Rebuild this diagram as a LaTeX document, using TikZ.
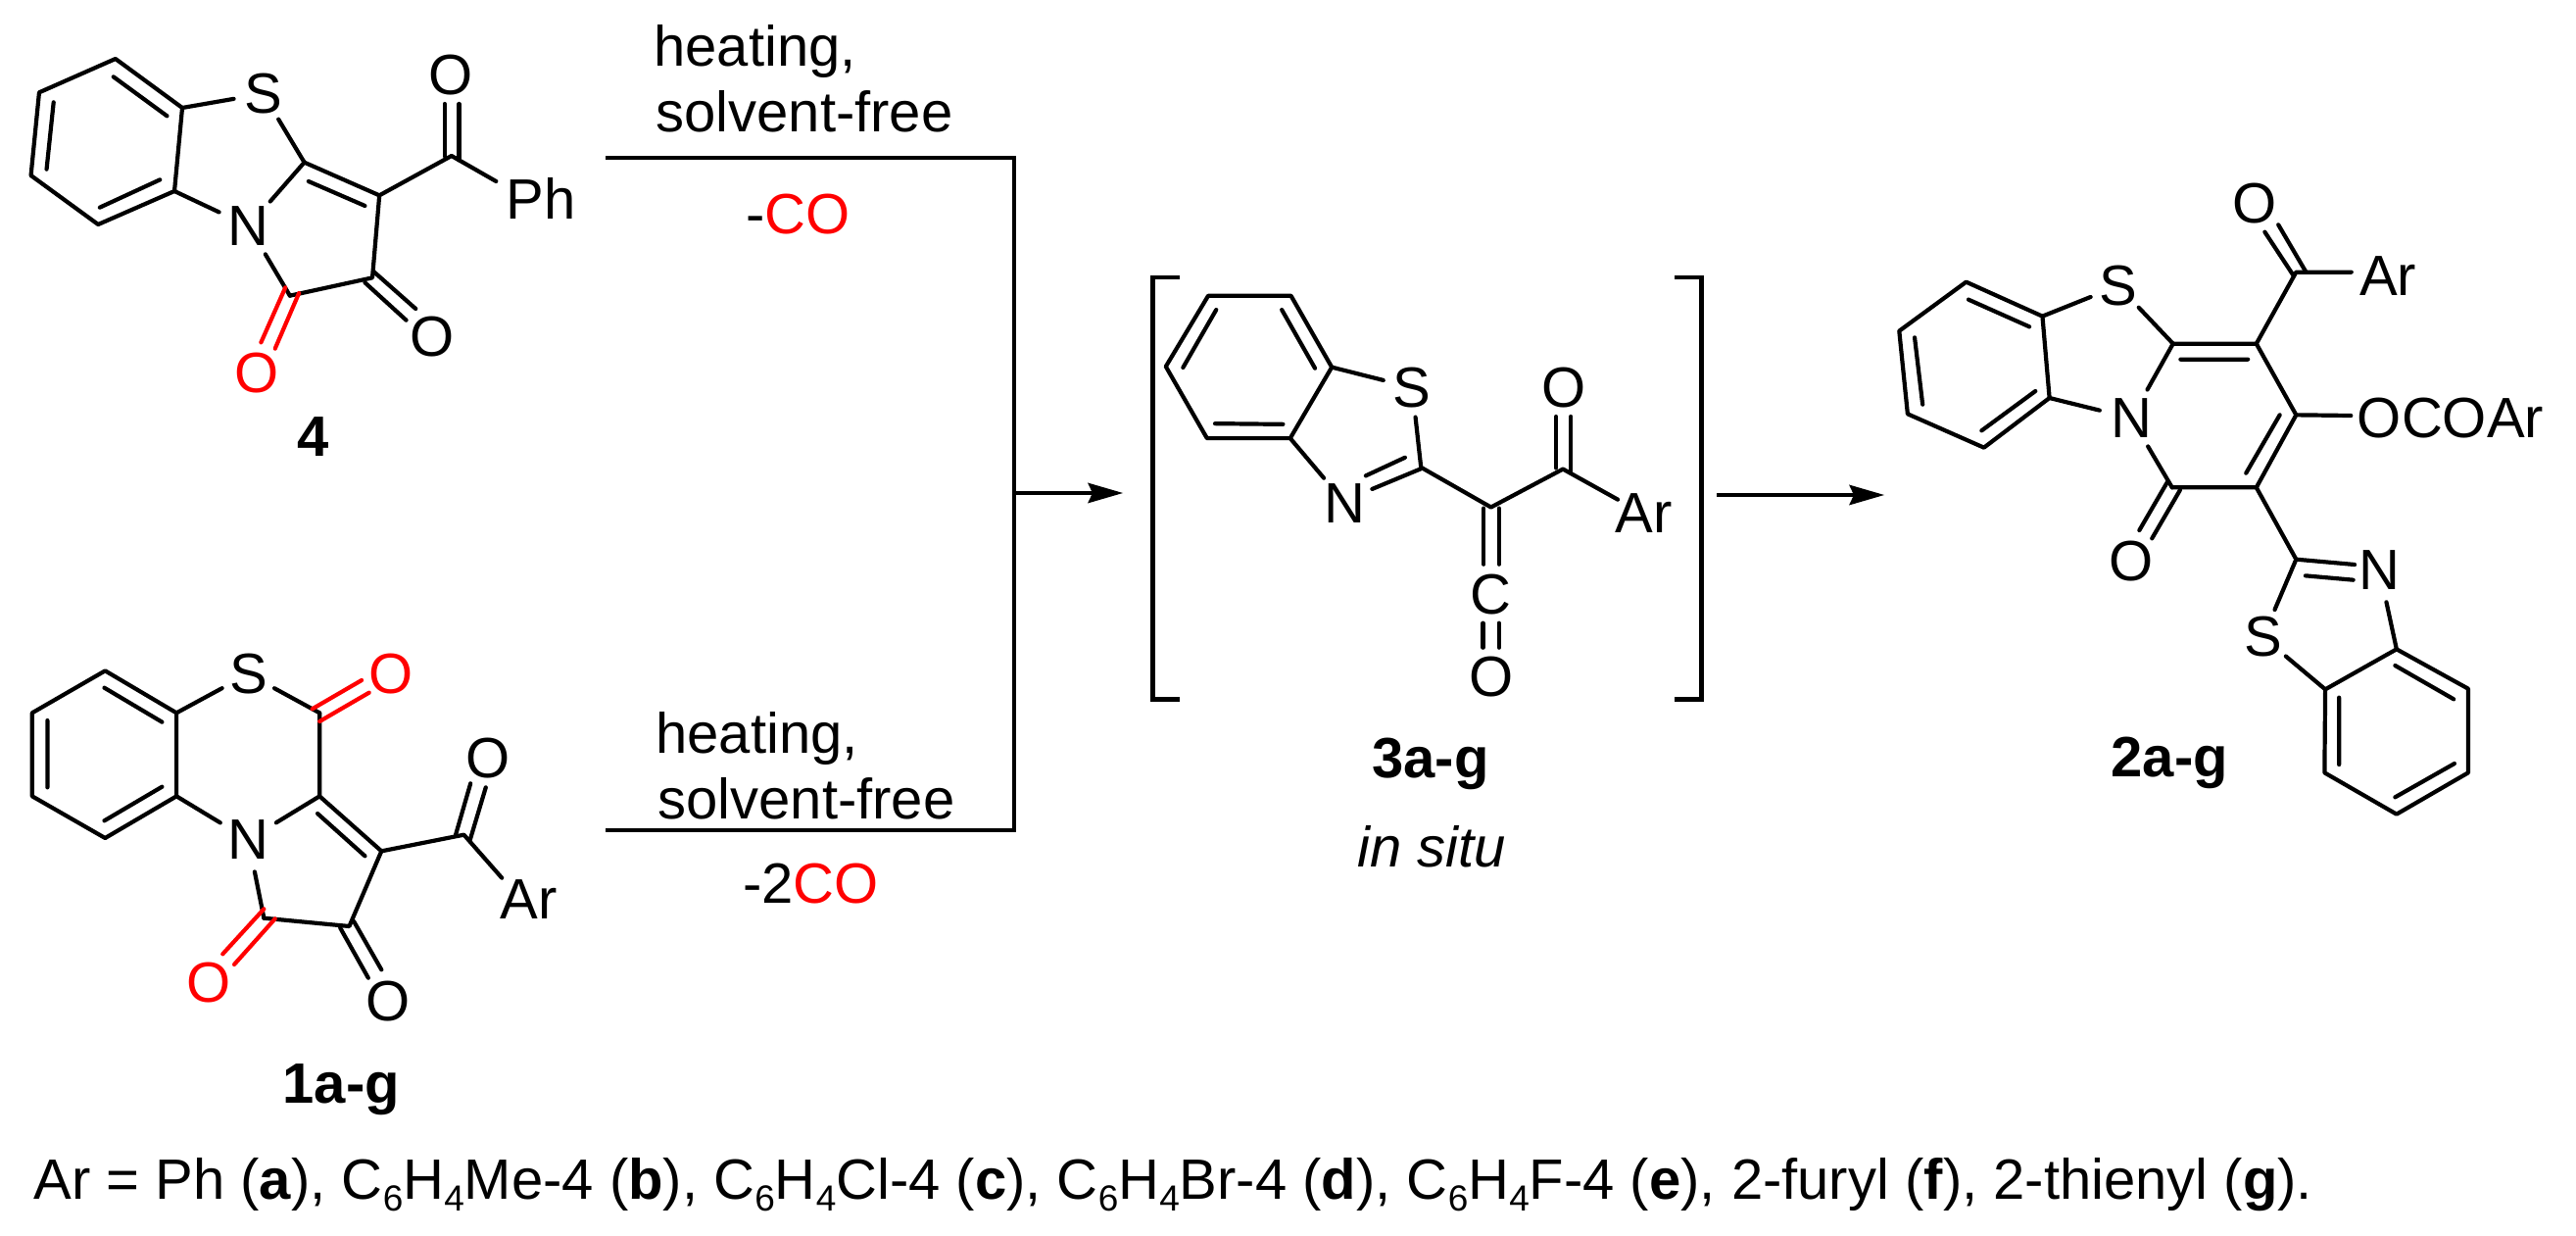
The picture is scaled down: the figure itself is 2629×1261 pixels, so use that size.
\documentclass[tikz,border=0pt]{standalone}
\usepackage{fontspec}
\setmainfont{Liberation Sans}
\usetikzlibrary{arrows.meta}
\definecolor{molred}{HTML}{FF0000}
\newcommand{\mysub}[1]{\raisebox{-6pt}{\fontsize{18.5}{20}\selectfont #1}}
\tikzset{
  bond/.style={draw=black,line width=2.1pt,line join=round,line cap=round},
  redbond/.style={draw=molred,line width=2.1pt,line cap=round},
  scheme/.style={draw=black,line width=2.4pt,line join=miter},
  flow/.style={draw=black,line width=2.4pt,-{Stealth[length=18pt,width=10.5pt,inset=2.5pt,line width=0pt]}},
  bracketline/.style={draw=black,line width=2.3pt,line join=miter},
  atomS/.style={circle,inner sep=0pt,minimum size=30pt,font=\fontsize{29}{33}\selectfont},
  atomN/.style={circle,inner sep=0pt,minimum size=33pt,font=\fontsize{29}{33}\selectfont},
  atomO/.style={circle,inner sep=0pt,minimum size=30pt,font=\fontsize{29}{33}\selectfont},
  atomR/.style={atomO,text=molred},
  txt/.style={inner sep=0pt,anchor=base west,font=\fontsize{29}{33}\selectfont},
  bold/.style={txt,font=\fontsize{29}{33}\selectfont\bfseries},
}
\begin{document}
\begin{tikzpicture}[x=0.5pt,y=-0.5pt]
\useasboundingbox (0,0) rectangle (2629,1261);

% ---------- compound 4
\begin{scope}[x=.21044pt,y=-.16667pt]
\coordinate (a1) at (280,180); \coordinate (a2) at (442,330);
\coordinate (a3) at (423,585); \coordinate (a4) at (238,687);
\coordinate (a5) at (75,537);  \coordinate (a6) at (95,283);
\coordinate (c1) at (738,497); \coordinate (c2) at (920,598);
\coordinate (c3) at (903,850); \coordinate (c4) at (703,905);
\coordinate (c5) at (1095,477); \coordinate (phb) at (1203,555);
\node[atomS] (S4) at (638,287) {S};
\node[atomN] (N4) at (603,692) {N};
\node[atomR] (O4r) at (622,1143) {O};
\node[atomO] (O4a) at (1049,1030) {O};
\node[atomO] (O4b) at (1094,230) {O};
\node[txt] (Ph4) at (1226,670) {Ph};
\draw[bond] (a1)--(a2)--(a3)--(a4)--(a5)--(a6)--cycle;
\draw[bond] (275,235)--(405,355) (388,550)--(242,635) (113,518)--(130,313);
\draw[bond] (a2)--(S4); \draw[bond] (S4)--(c1); \draw[bond] (a3)--(N4); \draw[bond] (N4)--(c1);
\draw[bond] (c1)--(c2)--(c3)--(c4); \draw[bond] (N4)--(c4);
\draw[bond] (748,555)--(885,630);
\draw[redbond] (692,880)--(633,1048) (725,897)--(667,1067);
\draw[bond] (905,830)--(1008,945) (885,865)--(985,980);
\draw[bond] (c2)--(c5)--(phb);
\draw[bond] (1078,318)--(1078,478) (1113,318)--(1113,490);
\node[bold,anchor=base] (L4) at (760,1397) {4};
\end{scope}

% ---------- compound 1a-g
\begin{scope}[x=.21044pt,y=-.16667pt,shift={(0pt,-320pt)}]
\coordinate (b1) at (255,133); \coordinate (b2) at (428,262);
\coordinate (b3) at (428,517); \coordinate (b4) at (255,645);
\coordinate (b5) at (78,517);  \coordinate (b6) at (78,262);
\coordinate (d1) at (775,262); \coordinate (d2) at (775,517);
\coordinate (d3) at (925,685); \coordinate (d4) at (847,915);
\coordinate (d5) at (640,890); \coordinate (d6) at (1125,635);
\coordinate (arb) at (1217,767);
\node[atomS] (S1) at (602,143) {S};
\node[atomN] (N1) at (602,650) {N};
\node[atomR] (O1r) at (948,143) {O};
\node[atomR] (O1s) at (507,1088) {O};
\node[atomO] (O1a) at (942,1145) {O};
\node[atomO] (O1b) at (1183,400) {O};
\node[txt] (Ar1) at (1212,892) {Ar};
\draw[bond] (b1)--(b2)--(b3)--(b4)--(b5)--(b6)--cycle;
\draw[bond] (253,185)--(393,290) (393,488)--(253,592) (115,285)--(115,490);
\draw[bond] (b2)--(S1); \draw[bond] (S1)--(d1); \draw[bond] (b3)--(N1); \draw[bond] (N1)--(d2);
\draw[bond] (d1)--(d2)--(d3)--(d4)--(d5); \draw[bond] (N1)--(d5);
\draw[bond] (770,570)--(885,700);
\draw[redbond] (757,250)--(877,162) (775,288)--(895,200);
\draw[redbond] (640,862)--(540,1000) (667,892)--(568,1032);
\draw[bond] (858,900)--(925,1048) (825,920)--(893,1073);
\draw[bond] (d3)--(d6)--(arb);
\draw[bond] (1105,635)--(1141,478) (1140,650)--(1178,490);
\node[bold] (L1) at (685,1455) {1a-g};
\end{scope}

% ---------- intermediate 3a-g
\begin{scope}[x=.20408pt,y=-.17857pt,shift={(570pt,-120pt)}]
\coordinate (e1) at (228,173); \coordinate (e2) at (435,173);
\coordinate (e3) at (537,377); \coordinate (e4) at (433,580);
\coordinate (e5) at (225,580); \coordinate (e6) at (122,375);
\coordinate (f1) at (760,663); \coordinate (f2) at (935,777);
\coordinate (f3) at (1115,668); \coordinate (arc) at (1252,755);
\node[atomS] (S3) at (738,435) {S};
\node[atomN] (N3) at (570,765) {N};
\node[atomO] (O3a) at (1117,435) {O};
\node[atomO,minimum size=26pt] (C3) at (935,1025) {C};
\node[atomO,minimum size=26pt] (O3b) at (935,1262) {O};
\node[txt] (Ar3) at (1245,850) {Ar};
\draw[bond] (e1)--(e2)--(e3)--(e4)--(e5)--(e6)--cycle;
\draw[bond] (248,213)--(165,378) (412,213)--(495,380) (245,538)--(415,540);
\draw[bond] (e3)--(S3); \draw[bond] (S3)--(f1); \draw[bond] (e4)--(N3);
\draw[bond] (760,667)--(638,725) (720,635)--(622,687);
\draw[bond] (f1)--(f2)--(f3)--(arc);
\draw[bond] (1098,518)--(1098,665) (1135,518)--(1135,675);
\draw[bond] (917,780)--(917,940) (955,780)--(955,940);
\draw[bond] (915,1108)--(915,1178) (955,1108)--(955,1178);
\draw[bracketline] (157,120)--(90,120)--(90,1325)--(157,1325);
\draw[bracketline] (1395,120)--(1462,120)--(1462,1325)--(1395,1325);
\end{scope}
\node[bold] (L3) at (1400,793) {3a-g};
\node[txt,font=\fontsize{29}{33}\selectfont\itshape] (situ) at (1385,884) {in situ};

% ---------- product 2a-g
\begin{scope}[x=.23884pt,y=-.16667pt,shift={(940pt,-70pt)}]
\coordinate (g1) at (265,443); \coordinate (g2) at (428,548);
\coordinate (g3) at (443,798); \coordinate (g4) at (303,950);
\coordinate (g5) at (140,847); \coordinate (g6) at (122,593);
\coordinate (h1) at (707,632); \coordinate (h2) at (885,632);
\coordinate (h3) at (970,850); \coordinate (h4) at (885,1072);
\coordinate (h5) at (705,1072); \coordinate (h6) at (970,413);
\coordinate (h7) at (970,1292);
\coordinate (arb2) at (1088,413); \coordinate (ocb) at (1087,852);
\node[atomS] (S2) at (590,455) {S};
\node[atomN] (N2) at (618,860) {N};
\node[atomO] (O2a) at (617,1298) {O};
\node[atomO] (O2b) at (882,203) {O};
\node[atomN] (N2b) at (1148,1325) {N};
\node[txt] (Ar2) at (1105,485) {Ar};
\node[txt] (OCO) at (1100,920) {OCOAr};
\draw[bond] (g1)--(g2)--(g3)--(g4)--(g5)--(g6)--cycle;
\draw[bond] (270,497)--(400,580) (413,777)--(298,898) (172,818)--(155,613);
\draw[bond] (g2)--(S2); \draw[bond] (S2)--(h1); \draw[bond] (g3)--(N2); \draw[bond] (N2)--(h1);
\draw[bond] (h1)--(h2)--(h3)--(h4)--(h5); \draw[bond] (N2)--(h5);
\draw[bond] (723,680)--(867,680) (935,850)--(863,1028);
\draw[bond] (695,1055)--(635,1203) (722,1080)--(662,1228);
\draw[bond] (h2)--(h6)--(arb2);
\draw[bond] (990,410)--(932,268) (965,425)--(903,290);
\draw[bond] (h3)--(ocb);
\draw[bond] (h4)--(h7)--(1095,1308);
\draw[bond] (990,1342)--(1092,1355);
\end{scope}
\begin{scope}[x=.18463pt,y=-.16667pt,shift={(1025pt,-300pt)}]
\coordinate (i1) at (875,310); \coordinate (i2) at (1072,187);
\coordinate (i3) at (1270,308); \coordinate (i4) at (1270,565);
\coordinate (i5) at (1072,692); \coordinate (i6) at (873,565);
\node[atomS] (S2b) at (703,150) {S};
\draw[bond] (i1)--(i2)--(i3)--(i4)--(i5)--(i6)--cycle;
\draw[bond] (1068,237)--(1230,340) (1232,537)--(1068,640) (913,335)--(913,540);
\draw[bond] (S2b)--(i1);
\draw[bond] (N2b)--(i2);
\draw[bond] (h7)--(S2b);
\node[bold] (L2) at (282,577) {2a-g};
\end{scope}

% ---------- reaction lines
\coordinate (upS) at (618,161); \coordinate (upT) at (1035,161);
\coordinate (loT) at (1035,847); \coordinate (loS) at (618,847);
\coordinate (junc) at (1035,503); \coordinate (tip1) at (1146,503);
\coordinate (st2) at (1752,505); \coordinate (tip2) at (1923,505);
\draw[scheme] (upS)--(upT)--(loT)--(loS);
\draw[flow] (junc)--(tip1);
\draw[flow] (st2)--(tip2);

\node[txt] (h1t) at (667,68) {heating,};
\node[txt] (s1t) at (669,135) {solvent-free};
\node[txt] (co1) at (761,239) {-\textcolor{molred}{CO}};
\node[txt] (h2t) at (669,768) {heating,};
\node[txt] (s2t) at (671,835) {solvent-free};
\node[txt] (co2) at (758,921) {-2\textcolor{molred}{CO}};

\node[txt] (foot) at (34,1223) {Ar = Ph (\textbf{a}), C\mysub{6}H\mysub{4}Me-4 (\textbf{b}), C\mysub{6}H\mysub{4}Cl-4 (\textbf{c}), C\mysub{6}H\mysub{4}Br-4 (\textbf{d}), C\mysub{6}H\mysub{4}F-4 (\textbf{e}), 2-furyl (\textbf{f}), 2-thienyl (\textbf{g}).};
\end{tikzpicture}
\end{document}
